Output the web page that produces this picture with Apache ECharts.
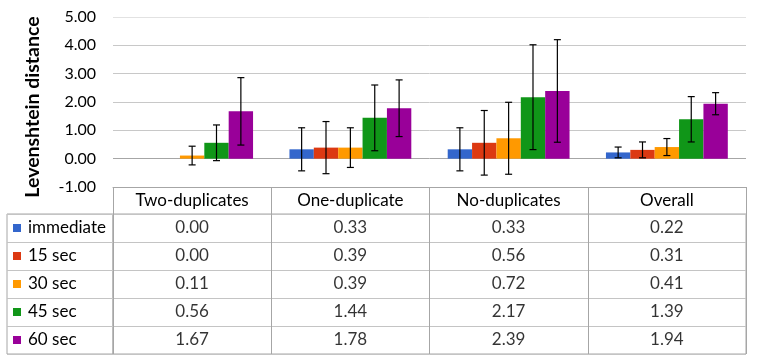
<!DOCTYPE html>
<html>
<head>
<meta charset="utf-8">
<script src="https://cdn.jsdelivr.net/npm/echarts@6/dist/echarts.min.js"></script>
<style>html,body{margin:0;padding:0;background:#fff}#c{width:759px;height:356px}</style>
</head>
<body>
<div id="c"></div>
<script>
const categories = ['Two-duplicates', 'One-duplicate', 'No-duplicates', 'Overall'];
const seriesNames = ['immediate', '15 sec', '30 sec', '45 sec', '60 sec'];
const immediate = [0.00, 0.33, 0.33, 0.22];
const sec15 = [0.00, 0.39, 0.56, 0.31];
const sec30 = [0.11, 0.39, 0.72, 0.41];
const sec45 = [0.56, 1.44, 2.17, 1.39];
const sec60 = [1.67, 1.78, 2.39, 1.94];
const errImmediate = [null, 0.76, 0.76, 0.19];
const err15 = [null, 0.92, 1.14, 0.28];
const err30 = [0.33, 0.70, 1.27, 0.30];
const err45 = [0.63, 1.16, 1.85, 0.80];
const err60 = [1.19, 1.00, 1.81, 0.39];
const yTicks = { min: -1, max: 5, interval: 1 };

const colors = ['#3366cc', '#dc3912', '#ff9900', '#109618', '#990099'];
const values = [immediate, sec15, sec30, sec45, sec60];
const errors = [errImmediate, err15, err30, err45, err60];
const FONT = 'Lato';
const CAT_GAP = 0.23;

const chart = echarts.init(document.getElementById('c'));

const barSeries = values.map((v, si) => ({
  type: 'bar', name: seriesNames[si], xAxisIndex: 0, yAxisIndex: 0,
  data: v, barGap: '0%', barCategoryGap: (CAT_GAP * 100) + '%',
  itemStyle: { color: colors[si] }, silent: true
}));

const errSeries = errors.map((e, si) => ({
  type: 'custom', xAxisIndex: 0, yAxisIndex: 0, silent: true, z: 10,
  data: e.map((d, ci) => d == null ? null : [ci, values[si][ci] - d, values[si][ci] + d]).filter(x => x),
  renderItem: function (params, api) {
    const cat = api.value(0);
    const bandW = api.size([1, 0])[0];
    const barW = bandW * (1 - CAT_GAP) / values.length;
    const cx = api.coord([cat, 0])[0] + (si - (values.length - 1) / 2) * barW;
    const yLo = api.coord([cat, api.value(1)])[1];
    const yHi = api.coord([cat, api.value(2)])[1];
    const hw = 3.5;
    const st = { stroke: '#000', lineWidth: 1.2 };
    return {
      type: 'group', children: [
        { type: 'line', shape: { x1: cx, y1: yLo, x2: cx, y2: yHi }, style: st },
        { type: 'line', shape: { x1: cx - hw, y1: yLo, x2: cx + hw, y2: yLo }, style: st },
        { type: 'line', shape: { x1: cx - hw, y1: yHi, x2: cx + hw, y2: yHi }, style: st }
      ]
    };
  }
}));

const tableData = [];
categories.forEach((c, ci) => seriesNames.forEach((s, si) => tableData.push([ci, si, values[si][ci]])));

const rich = {};
colors.forEach((c, i) => { rich['sq' + i] = { backgroundColor: c, width: 8, height: 8 }; });
rich.t = { fontFamily: FONT, fontSize: 17, color: '#000', padding: [0, 0, 0, 7] };

const option = {
  animation: false,
  textStyle: { fontFamily: FONT },
  grid: [
    { left: 113, right: 13, top: 17, height: 170 },
    { left: 113, right: 13, top: 214, height: 140, show: true, borderColor: '#a6a6a6', borderWidth: 1 },
    { left: 7, width: 106, top: 214, height: 140, show: true, borderColor: '#a6a6a6', borderWidth: 1 }
  ],
  xAxis: [
    {
      type: 'category', gridIndex: 0, data: categories, position: 'bottom',
      axisLine: { onZero: false, show: true, lineStyle: { color: '#a6a6a6' } },
      axisTick: { show: true, length: 27, interval: 0, lineStyle: { color: '#a6a6a6' } },
      axisLabel: { show: true, interval: 0, margin: 5, fontSize: 17, lineHeight: 18, color: '#000', fontFamily: FONT },
      splitLine: { show: false }
    },
    {
      type: 'category', gridIndex: 1, data: categories,
      axisLine: { show: false }, axisTick: { show: false }, axisLabel: { show: false },
      splitLine: { show: true, interval: 0, lineStyle: { color: '#a6a6a6' } }
    },
    { type: 'value', gridIndex: 2, show: false }
  ],
  yAxis: [
    {
      type: 'value', gridIndex: 0, min: yTicks.min, max: yTicks.max, interval: yTicks.interval,
      name: 'Levenshtein distance', nameLocation: 'middle', nameGap: 70, nameRotate: 90,
      nameTextStyle: { fontFamily: FONT, fontSize: 19.5, fontWeight: 'bold', color: '#000', padding: [0, 10, 0, 0] },
      axisLine: { show: false }, axisTick: { show: false },
      axisLabel: { margin: 17, fontSize: 16, color: '#000', fontFamily: FONT, formatter: v => v.toFixed(2) },
      splitLine: { show: true, lineStyle: { color: ['#a6a6a6', '#a6a6a6', '#c8c8c8', '#c8c8c8', '#c8c8c8', '#c8c8c8', '#e2e2e2'] } }
    },
    {
      type: 'category', gridIndex: 1, data: seriesNames, inverse: true,
      axisLine: { show: false }, axisTick: { show: false }, axisLabel: { show: false },
      splitLine: { show: true, interval: 0, lineStyle: { color: '#c4c4c4' } }
    },
    {
      type: 'category', gridIndex: 2, data: seriesNames, inverse: true,
      axisLine: { show: false }, axisTick: { show: false },
      axisLabel: {
        inside: true, margin: 6, interval: 0,
        formatter: (v, i) => '{sq' + i + '|}{t|' + v + '}', rich: rich
      },
      splitLine: { show: true, interval: 0, lineStyle: { color: '#c4c4c4' } }
    }
  ],
  series: barSeries.concat(errSeries).concat([{
    type: 'scatter', xAxisIndex: 1, yAxisIndex: 1, silent: true,
    symbolSize: 1, itemStyle: { color: 'rgba(0,0,0,0)' },
    data: tableData,
    label: { show: true, position: 'inside', fontFamily: FONT, fontSize: 17, color: '#000', formatter: p => p.value[2].toFixed(2) }
  }])
};
chart.setOption(option);
</script>
</body>
</html>
